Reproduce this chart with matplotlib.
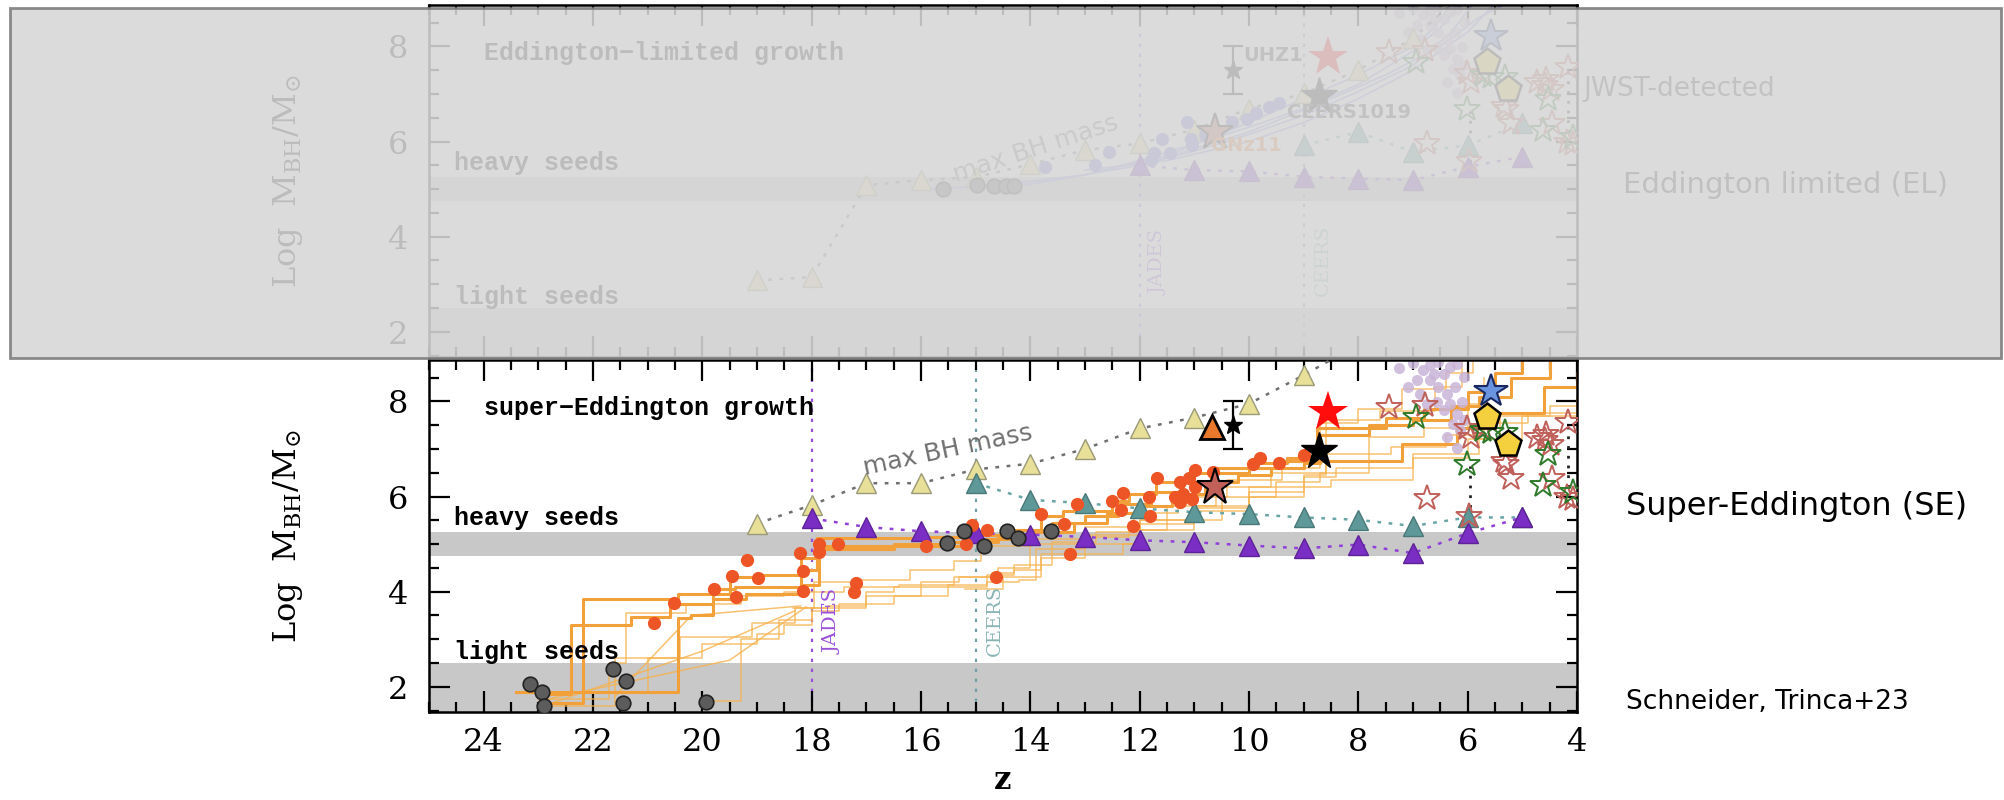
import numpy as np
import matplotlib
matplotlib.use('Agg')
import matplotlib.pyplot as plt
from matplotlib.patches import Rectangle

plt.rcParams['font.family'] = 'DejaVu Serif'
plt.rcParams['mathtext.fontset'] = 'dejavuserif'

# ---------------- data ----------------
# max BH mass (yellow), teal and purple triangle series
z_tri = [19, 18, 17, 16, 15, 14, 13, 12, 11, 10, 9, 8, 7, 6, 5]
m_max_se = [5.43, 5.82, 6.28, 6.28, 6.57, 6.69, 7.00, 7.43, 7.66, 7.95, 8.55, 9.2]
m_teal_se = [6.28, 5.93, 5.86, 5.75, 5.67, 5.63, 5.56, 5.51, 5.38, 5.56, 5.56]   # z = 15..5
m_purple_se = [5.54, 5.36, 5.27, 5.23, 5.20, 5.15, 5.08, 5.04, 4.97, 4.91, 4.99, 4.81, 5.23, 5.56]  # z = 18..5

m_max_el = [3.08, 3.15, 5.08, 5.19, 5.25, 5.52, 5.82, 5.96, 6.25, 6.69, 7.01, 7.50, 8.17, 9.2]
m_teal_el = [5.92, 6.20, 5.78, 5.92, 6.38]           # z = 9..5
m_purple_el = [5.50, 5.40, 5.37, 5.26, 5.22, 5.19, 5.47, 5.68]  # z = 12..5

# BH seeds / descendants (dark grey circles)
z_seed_se = [23.15, 22.93, 22.89, 21.63, 21.40, 21.45, 19.93, 15.52, 15.21, 14.84, 14.42, 14.22, 13.63]
m_seed_se = [2.05, 1.88, 1.60, 2.37, 2.12, 1.65, 1.68, 5.02, 5.27, 4.95, 5.27, 5.12, 5.27]
z_seed_el = [15.60, 14.97, 14.66, 14.45, 14.30]
m_seed_el = [5.01, 5.09, 5.07, 5.06, 5.06]

# SE model BHs (red-orange dots)
z_red = [20.88, 20.52, 19.78, 19.39, 19.46, 19.19, 18.98, 18.21, 18.15, 18.15, 17.86, 17.86,
         17.51, 17.19, 17.23, 15.91, 15.18, 15.06, 14.80, 14.63, 13.81, 13.38, 13.28, 13.15,
         12.51, 12.30, 12.34, 12.12, 11.81, 11.69, 11.83, 11.35, 11.26, 11.26, 11.20, 11.05,
         10.99, 11.10, 10.99, 10.65, 9.92, 9.80, 9.46, 9.00]
m_red = [3.34, 3.77, 4.06, 3.89, 4.32, 4.66, 4.28, 4.81, 4.43, 4.01, 5.00, 4.83,
         5.00, 4.19, 4.00, 4.95, 5.01, 5.40, 5.30, 4.31, 5.64, 5.43, 4.80, 5.85,
         5.91, 6.07, 5.71, 5.37, 5.60, 6.38, 5.99, 6.00, 6.30, 5.89, 6.05, 5.95,
         6.56, 6.38, 6.20, 6.51, 6.69, 6.81, 6.70, 6.87]

# EL model BHs (blue dots, upper panel)
z_blue = [13.73, 12.82, 12.56, 11.74, 11.60, 11.45, 11.80, 11.14, 11.04, 11.07, 10.81,
          10.31, 10.04, 9.87, 9.63, 9.46]
m_blue = [5.47, 5.50, 5.78, 5.75, 6.06, 5.75, 5.61, 6.40, 5.92, 6.06, 6.13,
          6.40, 6.48, 6.59, 6.73, 6.80]

# low-z lavender cloud
z_cloud = [7.09, 6.93, 6.81, 6.69, 6.54, 6.44, 6.32, 6.20, 6.69, 6.54, 6.38, 6.23, 6.32,
           6.20, 6.10, 6.27, 6.14, 6.38, 6.20, 6.07, 6.87, 6.75, 6.56, 6.44, 6.62, 6.07, 7.25, 7.0]
m_cloud = [8.30, 8.44, 8.65, 8.76, 8.83, 8.58, 8.72, 8.79, 8.44, 8.30, 8.16, 8.30, 7.95,
           7.74, 7.99, 7.53, 7.39, 7.25, 7.01, 7.60, 8.16, 7.95, 7.99, 7.81, 8.58, 8.51, 8.7, 8.8]

# JWST-detected sources
z_red_star, m_red_star = 8.55, 7.78
z_black_star, m_black_star = 8.72, 6.96      # CEERS1019
z_gnz11, m_gnz11 = 10.62, 6.19
z_uhz1, m_uhz1, err_uhz1 = 10.30, 7.50, 0.5
z_otri, m_otri = 10.68, 7.47
z_blue_star, m_blue_star = 5.58, 8.22
z_pent = [5.65, 5.26]
m_pent = [7.67, 7.10]
z_open_red = [7.43, 6.78, 6.75, 5.97, 5.93, 6.02, 5.72, 5.29, 5.20, 5.33, 4.74, 4.59,
              4.46, 4.47, 4.16, 4.19, 4.07, 4.56]
m_open_red = [7.88, 7.92, 5.96, 5.58, 7.25, 7.43, 7.43, 6.69, 6.38, 6.74, 7.25, 7.18,
              6.38, 7.10, 7.57, 5.99, 5.95, 7.32]
z_open_green = [6.95, 6.02, 5.72, 5.31, 4.53, 4.62, 4.07, 5.58]
m_open_green = [7.67, 6.69, 7.39, 7.36, 6.90, 6.24, 6.10, 7.36]
z_link = [5.95, 4.17]
m_link_lo = [5.56, 5.98]
m_link_hi = [6.65, 7.50]

# SE growth tracks (step-like)
tracks_se_thick = [
    ([23.4, 20.45, 20.2, 19.8, 19.4, 18.2, 17.86, 16.5, 15.5, 14.8, 14.2, 13.8, 13.4, 12.5,
      12.2, 11.7, 11.0, 10.6, 9.9, 9.3, 8.7, 7.8, 7.0, 6.3, 5.8, 5.2, 4.5, 4.0],
     [1.88, 3.45, 3.5, 4.06, 4.1, 4.15, 4.95, 5.0, 5.05, 5.1, 5.3, 5.6, 5.7, 5.9,
      6.05, 6.3, 6.5, 6.6, 6.7, 6.8, 7.3, 7.5, 7.6, 7.9, 8.1, 8.5, 8.9, 8.9]),
    ([22.85, 22.19, 20.45, 19.5, 19.0, 18.2, 17.9, 16.0, 15.0, 14.4, 13.6, 13.0, 12.4,
      11.8, 11.2, 10.7, 10.0, 9.4, 8.75, 7.5, 6.8, 6.0, 5.5, 5.0],
     [1.65, 3.85, 3.95, 4.3, 4.35, 4.7, 5.12, 5.15, 5.2, 5.3, 5.45, 5.6, 5.85,
      6.1, 6.3, 6.5, 6.6, 6.75, 7.45, 7.65, 7.85, 8.2, 8.6, 8.95]),
    ([22.95, 22.41, 21.3, 20.6, 19.8, 19.2, 18.2, 17.9, 16.5, 15.2, 14.6, 14.0, 13.2,
      12.6, 12.0, 11.4, 10.8, 10.2, 9.6, 9.0, 8.7, 7.2, 6.2, 5.5, 4.6, 4.0],
     [1.85, 3.29, 3.47, 3.75, 3.85, 3.95, 4.45, 4.9, 4.95, 5.05, 5.15, 5.25, 5.45,
      5.65, 5.8, 6.05, 6.3, 6.45, 6.6, 6.7, 6.75, 7.1, 7.45, 7.75, 8.3, 8.6]),
]
tracks_se_thin = [
    ([22.9, 21.6, 20.4, 19.1, 18.3, 17.95, 17.2, 16.2, 15.4, 14.9, 14.0, 13.0, 12.1, 11.3,
      10.4, 9.4, 8.7, 8.0, 7.2, 6.4, 5.9],
     [1.6, 2.6, 3.05, 3.35, 3.65, 4.2, 4.25, 4.45, 4.65, 4.95, 5.1, 5.35, 5.65, 6.0,
      6.35, 6.6, 7.55, 7.85, 8.25, 8.6, 8.95]),
    ([23.0, 21.7, 21.4, 20.3, 19.3, 18.5, 17.4, 16.4, 15.4, 14.6, 14.0, 13.0, 12.0, 11.0,
      10.0, 9.0, 8.6, 7.4, 6.4, 5.7, 4.9, 4.0],
     [1.75, 2.5, 3.55, 3.75, 3.9, 4.0, 4.1, 4.15, 4.3, 4.5, 5.0, 5.2, 5.42, 5.75,
      6.1, 6.45, 6.9, 7.05, 7.3, 7.55, 7.75, 8.0]),
    ([19.95, 19.3, 18.6, 18.0, 17.0, 16.0, 15.3, 14.7, 14.3, 13.6, 12.8, 12.0, 11.5, 10.6,
      9.6, 8.6, 7.6, 6.6, 6.1],
     [1.7, 3.0, 3.4, 3.65, 3.9, 4.2, 4.3, 4.4, 4.55, 5.05, 5.25, 5.5, 5.8, 6.2,
      6.5, 7.6, 7.8, 8.3, 8.9]),
    ([22.3, 21.0, 20.0, 19.0, 18.5, 18.0, 17.5, 16.5, 15.5, 14.8, 14.3, 13.8, 13.0, 12.0,
      11.0, 10.0, 9.0, 8.4, 7.0, 6.0, 5.4, 4.5, 4.0],
     [1.9, 2.6, 2.9, 3.1, 3.3, 3.6, 3.75, 3.9, 4.1, 4.35, 4.45, 4.8, 5.0, 5.3,
      5.7, 6.2, 6.4, 6.6, 6.8, 7.2, 7.7, 7.9, 8.1]),
    ([18.35, 17.7, 17.0, 16.5, 15.5, 14.8, 14.2, 13.9, 13.0, 12.2, 11.5, 10.5, 9.5, 8.7,
      7.8, 6.8, 6.0, 5.7],
     [3.65, 3.7, 4.0, 4.1, 4.15, 4.2, 4.25, 4.9, 5.15, 5.3, 5.5, 6.0, 6.3, 6.5,
      7.25, 7.45, 7.95, 8.5]),
    ([15.2, 14.5, 13.8, 13.0, 12.3, 12.0, 11.0, 10.0, 9.0, 8.5, 7.0, 5.8, 5.0, 4.0],
     [4.05, 4.3, 4.7, 4.8, 5.0, 5.5, 5.8, 6.0, 6.2, 6.35, 6.9, 7.2, 7.7, 8.0]),
]
tracks_light = [
    ([22.9, 20.0, 18.3], [1.6, 2.75, 3.6]),
    ([22.8, 19.5, 18.1], [1.75, 2.56, 3.68]),
    ([21.6, 20.2, 18.2], [1.8, 3.5, 3.7]),
]
# EL growth tracks (upper panel)
tracks_el = [
    ([16, 14, 13, 12, 11, 10, 9, 8, 7, 6.5, 6.1], [5.0, 5.1, 5.3, 5.6, 5.95, 6.3, 6.7, 7.2, 7.9, 8.4, 8.9]),
    ([15, 13.5, 12, 11, 10, 9, 8, 7, 6.3, 5.9], [5.05, 5.2, 5.5, 5.8, 6.15, 6.55, 7.05, 7.6, 8.3, 8.9]),
    ([14.5, 13, 11.5, 10, 9, 8, 7, 6.6, 6.3], [5.1, 5.3, 5.7, 6.4, 6.9, 7.4, 8.0, 8.4, 8.9]),
    ([13, 11.5, 10, 9, 8, 7, 6, 5.5], [5.4, 5.6, 6.0, 6.4, 6.9, 7.5, 8.3, 8.9]),
    ([12, 10, 8.5, 7.5, 6.5, 5.8, 5.3], [5.5, 6.2, 6.9, 7.4, 8.0, 8.6, 8.9]),
]

# ---------------- figure ----------------
W, H = 2004, 800
fig = plt.figure(figsize=(W / 100, H / 100), dpi=100)
ax_top = fig.add_axes([429 / W, 1 - 357 / H, 1148 / W, 352 / H])
ax_bot = fig.add_axes([429 / W, 1 - 712 / H, 1148 / W, 352 / H])

YLABEL = r'Log  M$_{\mathrm{BH}}$/M$_{\odot}$'
MONO = ['Liberation Mono', 'DejaVu Sans Mono']


def base_axes(ax, top_label):
    ax.set_xlim(25, 4)
    ax.set_ylim(1.47, 8.87)
    ax.set_xticks(range(24, 3, -2))
    ax.set_xticks(np.arange(25, 3.9, -0.5), minor=True)
    ax.set_yticks([2, 4, 6, 8])
    ax.set_yticks(np.arange(1.5, 8.9, 0.5), minor=True)
    ax.tick_params(which='both', direction='in', top=True, right=True, width=1.6)
    ax.tick_params(which='major', length=15, labelsize=23)
    ax.tick_params(which='minor', length=7.5)
    ax.tick_params(axis='x', pad=11)
    ax.tick_params(axis='y', pad=15)
    for s in ax.spines.values():
        s.set_linewidth(1.8)
    ax.axhspan(4.75, 5.25, color='#c8c8c8', lw=0, zorder=0)
    ax.axhspan(1.0, 2.5, color='#c8c8c8', lw=0, zorder=0)
    ax.set_ylabel(YLABEL, fontsize=23)
    ax.yaxis.set_label_coords(-0.108, 0.5)
    ax.text(24.0, 7.86, top_label, family=MONO, fontweight='bold', fontsize=18, va='center')
    ax.text(24.55, 5.55, 'heavy seeds', family=MONO, fontweight='bold', fontsize=18, va='center')
    ax.text(24.55, 2.74, 'light seeds', family=MONO, fontweight='bold', fontsize=18, va='center')


def observed(ax, orange_tri):
    ax.vlines(z_link, m_link_lo, m_link_hi, colors='#222222', linestyles=(0, (1, 2.5)), lw=2, zorder=3)
    ax.plot(z_cloud, m_cloud, 'o', color='#c9b4d9', ms=8, mew=0, alpha=0.85, zorder=2.5)
    ax.plot(z_open_red, m_open_red, '*', mfc='none', mec='#c0605a', ms=19, mew=1.4, zorder=5)
    ax.plot(z_open_green, m_open_green, '*', mfc='none', mec='#2f7a2a', ms=19, mew=1.4, zorder=5)
    ax.plot([z_red_star], [m_red_star], '*', color='#ff0d0d', ms=30, mew=0, zorder=6)
    ax.plot([z_black_star], [m_black_star], '*', color='black', ms=28, zorder=6)
    ax.plot([z_gnz11], [m_gnz11], '*', mfc='#c06058', mec='black', mew=1.5, ms=28, zorder=6)
    ax.errorbar([z_uhz1], [m_uhz1], yerr=[[err_uhz1], [err_uhz1]], fmt='*', color='black',
                ms=14, capsize=7, elinewidth=1.6, capthick=1.6, zorder=6)
    ax.plot([z_blue_star], [m_blue_star], '*', mfc='#6a94e0', mec='#1a2860', mew=1.5, ms=25, zorder=6)
    ax.plot(z_pent, m_pent, 'p', mfc='#f4d03f', mec='black', mew=1.8, ms=20, zorder=6)
    if orange_tri:
        ax.plot([z_otri], [m_otri], '^', mfc='#e8782c', mec='black', mew=2, ms=17, zorder=6)


TRI = dict(marker='^', ms=14, mew=1.0, zorder=4)

# ---- bottom: super-Eddington ----
ax = ax_bot
base_axes(ax, 'super\u2212Eddington growth')
ax.axvline(18, color='#9a4fd8', ls=(0, (1.5, 3)), lw=1.6, zorder=1)
ax.axvline(15, color='#6fa0a4', ls=(0, (1.5, 3)), lw=1.6, zorder=1)
ax.text(17.62, 3.37, 'JADES', rotation=90, color='#9a4fd8', fontsize=14, ha='center', va='center')
ax.text(14.65, 3.40, 'CEERS', rotation=90, color='#8ab4b4', fontsize=14, ha='center', va='center')
for zs, ms_ in tracks_light:
    ax.plot(zs, ms_, color='#f6b24e', lw=1.1, alpha=0.8, zorder=2)
for zs, ms_ in tracks_se_thin:
    ax.plot(zs, ms_, drawstyle='steps-post', color='#f6b24e', lw=1.1, alpha=0.8, zorder=2)
for zs, ms_ in tracks_se_thick:
    ax.plot(zs, ms_, drawstyle='steps-post', color='#f2a03a', lw=2.2, zorder=2.2)
ax.plot(z_tri[:len(m_max_se)], m_max_se, ls=(0, (1.5, 3)), color='#707070', lw=1.8,
        mfc='#e8df98', mec='#9a9a78', **TRI)
ax.plot(z_tri[4:4 + len(m_teal_se)], m_teal_se, ls=(0, (1.5, 3)), color='#6aa5a5', lw=1.8,
        mfc='#5f9898', mec='#4a7878', **TRI)
ax.plot(z_tri[1:1 + len(m_purple_se)], m_purple_se, ls=(0, (1.5, 3)), color='#9040d8', lw=1.8,
        mfc='#7a2ec4', mec='#5e2298', **TRI)
ax.plot(z_red, m_red, 'o', color='#ee5526', ms=9.5, mew=0, zorder=4.5)
ax.plot(z_seed_se, m_seed_se, 'o', mfc='#5c5c5c', mec='#222222', mew=1.2, ms=10.5, zorder=4.6)
observed(ax, True)
ax.text(15.5, 6.98, 'max BH mass', family='DejaVu Sans', color='#707070', fontsize=18,
        rotation=12, ha='center', va='center', zorder=5)
ax.set_xlabel('z', fontsize=22, fontweight='bold')
ax.xaxis.set_label_coords(0.5, -0.15)

# ---- top: Eddington limited ----
ax = ax_top
base_axes(ax, 'Eddington\u2212limited growth')
ax.tick_params(axis='x', labelbottom=False)
ax.axvline(12, color='#9a4fd8', ls=(0, (1.5, 3)), lw=1.6, zorder=1)
ax.axvline(9, color='#6fa0a4', ls=(0, (1.5, 3)), lw=1.6, zorder=1)
ax.text(11.65, 3.45, 'JADES', rotation=90, color='#9a4fd8', fontsize=14, ha='center', va='center')
ax.text(8.64, 3.50, 'CEERS', rotation=90, color='#8ab4b4', fontsize=14, ha='center', va='center')
for zs, ms_ in tracks_el:
    ax.plot(zs, ms_, color='#8f98e6', lw=1.2, zorder=2)
ax.plot(z_tri[:len(m_max_el)], m_max_el, ls=(0, (1.5, 3)), color='#707070', lw=1.8,
        mfc='#e8df98', mec='#9a9a78', **TRI)
ax.plot(z_tri[10:10 + len(m_teal_el)], m_teal_el, ls=(0, (1.5, 3)), color='#6aa5a5', lw=1.8,
        mfc='#5f9898', mec='#4a7878', **TRI)
ax.plot(z_tri[7:7 + len(m_purple_el)], m_purple_el, ls=(0, (1.5, 3)), color='#9040d8', lw=1.8,
        mfc='#7a2ec4', mec='#5e2298', **TRI)
ax.plot(z_blue, m_blue, 'o', color='#6e6ee0', ms=9.5, mew=0, zorder=4.5)
ax.plot(z_seed_el, m_seed_el, 'o', mfc='#5c5c5c', mec='#222222', mew=1.2, ms=10.5, zorder=4.6)
observed(ax, False)
ax.text(13.9, 5.85, 'max BH mass', family='DejaVu Sans', color='#707070', fontsize=18,
        rotation=18, ha='center', va='center', zorder=5)
ax.text(10.1, 7.80, 'UHZ1', family='DejaVu Sans', fontweight='bold', color='#333333',
        fontsize=14, va='center', zorder=7)
ax.text(9.31, 6.62, 'CEERS1019', family='DejaVu Sans', fontweight='bold', color='#333333',
        fontsize=14, va='center', zorder=7)
ax.text(10.69, 5.92, 'GNz11', family='DejaVu Sans', fontweight='bold', color='#e8782c',
        fontsize=14, va='center', zorder=7)

# ---- side labels ----
fig.text(1583 / W, 1 - 89 / H, 'JWST-detected', family='DejaVu Sans', fontsize=19,
         color='#333333', va='center')
fig.text(1623 / W, 1 - 185 / H, 'Eddington limited (EL)', family='DejaVu Sans', fontsize=21,
         color='#222222', va='center')
fig.text(1626 / W, 1 - 507 / H, 'Super-Eddington (SE)', family='DejaVu Sans', fontsize=23,
         color='black', va='center')
fig.text(1626 / W, 1 - 702 / H, 'Schneider, Trinca+23', family='DejaVu Sans', fontsize=19,
         color='black', va='center')

# translucent grey veil over the upper (EL) panel
veil = Rectangle((10 / W, 1 - 358 / H), 1991 / W, 350 / H, transform=fig.transFigure,
                 facecolor='#d7d7d7', edgecolor='#7a7a7a', lw=2, alpha=0.88, zorder=10)
fig.add_artist(veil)

fig.savefig('out.png', dpi=100)
